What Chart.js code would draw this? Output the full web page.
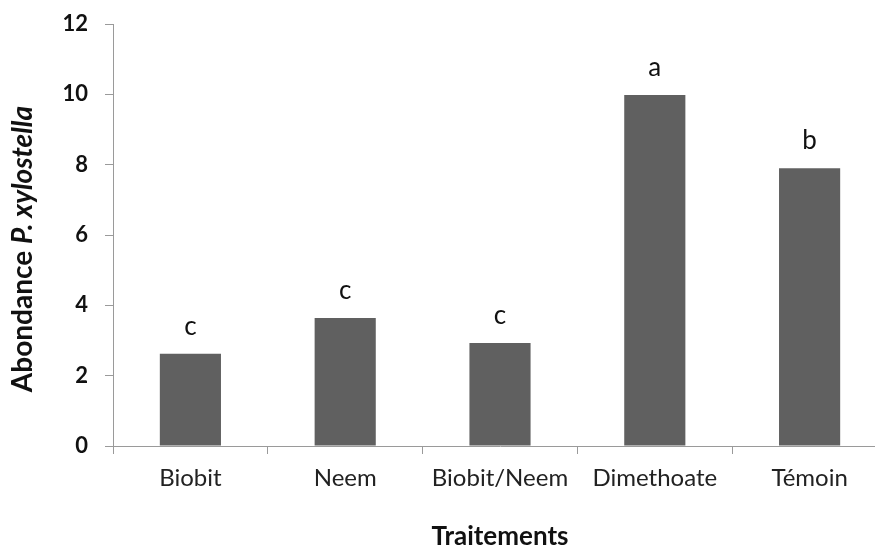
<!DOCTYPE html>
<html>
<head>
<meta charset="utf-8">
<script src="https://cdn.jsdelivr.net/npm/chart.js@4"></script>
<style>
  html, body { margin: 0; padding: 0; background: #fff; overflow: hidden; }
  #wrap { width: 900px; height: 549px; }
</style>
</head>
<body>
<div id="wrap"><canvas id="abChart" width="900" height="549"></canvas></div>
<script>
// data
const traitements = ['Biobit', 'Neem', 'Biobit/Neem', 'Dimethoate', 'Témoin'];
const abondance = [2.62, 3.64, 2.93, 9.98, 7.9];
const lettres = ['c', 'c', 'c', 'a', 'b'];
const yTicks = [0, 2, 4, 6, 8, 10, 12];

const FONT = 'Lato, "Open Sans", sans-serif';
const AXIS_GREY = '#9a9a9a';

// letters of significance above each bar
const lettersPlugin = {
    id: 'lettres',
    afterDatasetsDraw(chart) {
        const ctx = chart.ctx;
        const meta = chart.getDatasetMeta(0);
        ctx.save();
        ctx.font = '26px ' + FONT;
        ctx.fillStyle = '#111';
        ctx.textAlign = 'center';
        ctx.textBaseline = 'alphabetic';
        meta.data.forEach((bar, i) => {
            ctx.fillText(lettres[i], bar.x, bar.y - 19);
        });
        ctx.restore();
    }
};

// y title with italic species name
const yTitlePlugin = {
    id: 'yTitre',
    afterDraw(chart) {
        const ctx = chart.ctx;
        const part1 = 'Abondance ';
        const part2 = 'P. xylostella';
        const size = 28;
        ctx.save();
        ctx.fillStyle = '#111';
        ctx.textBaseline = 'middle';
        ctx.font = 'bold ' + size + 'px ' + FONT;
        const w1 = ctx.measureText(part1).width;
        ctx.font = 'italic bold ' + size + 'px ' + FONT;
        const w2 = ctx.measureText(part2).width;
        ctx.translate(23, 249);
        ctx.rotate(-Math.PI / 2);
        const start = -(w1 + w2) / 2;
        ctx.textAlign = 'left';
        ctx.font = 'bold ' + size + 'px ' + FONT;
        ctx.fillText(part1, start, 0);
        ctx.font = 'italic bold ' + size + 'px ' + FONT;
        ctx.fillText(part2, start + w1, 0);
        ctx.restore();
    }
};

const ctx = document.getElementById('abChart').getContext('2d');
const abChart = new Chart(ctx, {
    type: 'bar',
    data: {
        labels: traitements,
        datasets: [{
            data: abondance,
            backgroundColor: '#606060',
            borderWidth: 0,
            categoryPercentage: 1,
            barPercentage: 0.395
        }]
    },
    options: {
        responsive: false,
        animation: false,
        layout: { padding: { top: 24, right: 13, left: 0, bottom: 0 } },
        plugins: {
            legend: { display: false },
            tooltip: { enabled: false }
        },
        scales: {
            x: {
                offset: true,
                grid: {
                    offset: true,
                    drawOnChartArea: false,
                    tickLength: 8,
                    color: AXIS_GREY
                },
                border: { color: AXIS_GREY, width: 1 },
                ticks: {
                    padding: 10,
                    color: '#222',
                    font: { family: FONT, size: 24 }
                },
                title: {
                    display: true,
                    text: 'Traitements',
                    color: '#111',
                    padding: { top: 0, bottom: -3 },
                    font: { family: FONT, size: 26, weight: 'bold' }
                },
                afterFit(scale) { scale.height = 103; }
            },
            y: {
                min: 0,
                max: 12,
                afterBuildTicks(scale) {
                    scale.ticks = yTicks.map(v => ({ value: v }));
                },
                grid: {
                    drawOnChartArea: false,
                    tickLength: 8,
                    color: AXIS_GREY
                },
                border: { color: AXIS_GREY, width: 1 },
                ticks: {
                    padding: 17,
                    color: '#111',
                    font: { family: FONT, size: 22, weight: 'bold' }
                },
                afterFit(scale) {
                    scale.width = 113;
                    scale.paddingTop = 0;
                    scale.paddingBottom = 0;
                }
            }
        }
    },
    plugins: [lettersPlugin, yTitlePlugin]
});
</script>
</body>
</html>
